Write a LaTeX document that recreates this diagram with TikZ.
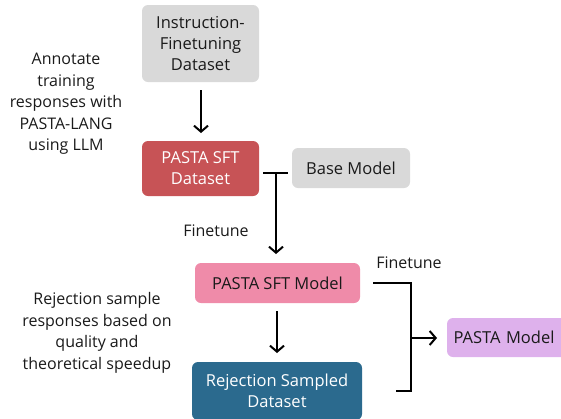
\documentclass[tikz,border=0pt]{standalone}
\usepackage{fontspec}
\setmainfont{Open Sans}
\usetikzlibrary{arrows.meta}
\definecolor{boxgray}{HTML}{D9D9D9}
\definecolor{sftred}{HTML}{C75356}
\definecolor{sftpink}{HTML}{EF8BA9}
\definecolor{rsblue}{HTML}{2B6A8E}
\definecolor{pastapurple}{HTML}{DEB1EC}
\definecolor{txt}{HTML}{1A1A1A}
\begin{document}
\begin{tikzpicture}[x=1pt,y=-1pt,
  box/.style={rounded corners=6pt, inner sep=0pt, align=center, font=\fontsize{16.5}{21}\selectfont},
  lbl/.style={align=center, text=txt, font=\fontsize{16}{21.5}\selectfont},
  conn/.style={line width=2pt, draw=black},
  arr/.style={conn, -{Straight Barb[length=6pt,width=14pt,line width=2pt]}}]
\useasboundingbox (0,0) rectangle (561,418);
\node[box, fill=boxgray, text=txt, minimum width=117pt, minimum height=77pt] (ifd) at (200.5,43.5) {Instruction-\\Finetuning\\Dataset};
\node[box, fill=sftred, text=white, minimum width=117pt, minimum height=55pt] (sftd) at (200.5,168.5) {PASTA SFT\\Dataset};
\node[box, fill=boxgray, text=txt, minimum width=118pt, minimum height=40pt] (base) at (351,168) {Base Model};
\node[box, fill=sftpink, text=txt, minimum width=165pt, minimum height=40pt] (sftm) at (277.5,283) {PASTA SFT Model};
\node[box, fill=rsblue, text=white, minimum width=170pt, minimum height=58pt] (rsd) at (277,391) {Rejection Sampled\\Dataset};
\node[box, fill=pastapurple, text=txt, minimum width=124pt, minimum height=39pt, text width=124pt] (pm) at (509,337.5) {\hspace*{-10pt}PASTA Model};
\node[lbl] (ann) at (66,104) {Annotate\\training\\responses with\\PASTA-LANG\\using LLM};
\node[lbl] (rej) at (97,333) {Rejection sample\\responses based on\\quality and\\theoretical speedup};
\node[lbl] (ft1) at (216,231) {Finetune};
\node[lbl] (ft2) at (409,263) {Finetune};
% arrows
\coordinate (a1s) at (201,90);
\coordinate (a1e) at (201,133);
\draw[arr] (a1s) -- (a1e);
\coordinate (j1l) at (263,173);
\coordinate (j1r) at (288,173);
\coordinate (j1m) at (276,173);
\coordinate (j1e) at (276,254);
\draw[conn] (j1l) -- (j1r);
\draw[arr] (j1m) -- (j1e);
\coordinate (a2s) at (277,311);
\coordinate (a2e) at (277,353);
\draw[arr] (a2s) -- (a2e);
\coordinate (b1) at (373,283);
\coordinate (b2) at (411,283);
\coordinate (b3) at (411,391);
\coordinate (b4) at (396,391);
\coordinate (bm) at (411,338);
\coordinate (be) at (437,338);
\draw[conn] (b1) -- (b2) -- (b3) -- (b4);
\draw[arr] (bm) -- (be);
\end{tikzpicture}
\end{document}
